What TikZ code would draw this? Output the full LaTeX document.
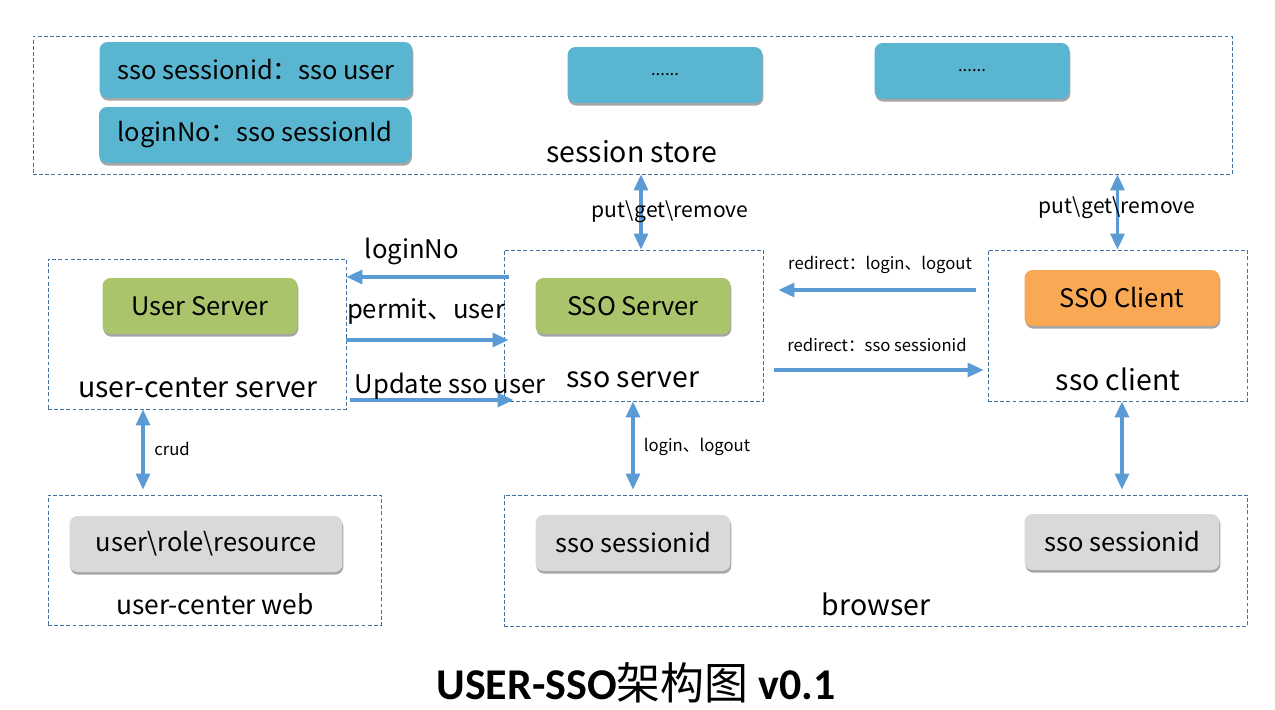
\documentclass[tikz,border=0pt]{standalone}
\usepackage{fontspec}
\setmainfont{Noto Sans CJK SC}
\newfontfamily\latinfont{Carlito}
\usetikzlibrary{arrows.meta,shadows,fit}

\definecolor{framecol}{RGB}{65,113,156}
\definecolor{arrowcol}{RGB}{91,155,213}
\definecolor{storecol}{RGB}{90,182,208}
\definecolor{servercol}{RGB}{169,196,106}
\definecolor{clientcol}{RGB}{249,168,84}
\definecolor{webcol}{RGB}{217,217,217}

\newcommand{\bigtext}{\fontsize{14.5}{17}\selectfont}
\newcommand{\labeltext}{\fontsize{16.2}{19}\selectfont}
\newcommand{\midtext}{\fontsize{14.6}{17}\selectfont}
\newcommand{\smalltext}{\fontsize{9.5}{12}\selectfont}

\tikzset{
  frame/.style={draw=framecol, line width=0.5pt, dash pattern=on 2.2pt off 1.3pt, inner sep=0pt},
  card/.style={rounded corners=0.16cm, minimum width=3.9cm, minimum height=1.12cm,
    inner sep=0pt, font=\bigtext,
    drop shadow={shadow xshift=0.5pt, shadow yshift=-1.5pt, opacity=0.35, fill=black}},
  boxlabel/.style={font=\labeltext, inner sep=1pt},
  flow/.style={draw=arrowcol, line width=1.8pt, -{Triangle[length=0.32cm, width=0.28cm]}},
  duplex/.style={flow, {Triangle[length=0.32cm, width=0.28cm]}-{Triangle[length=0.32cm, width=0.28cm]}},
}

\begin{document}
\begin{tikzpicture}[x=0.02cm, y=-0.02cm]
  \useasboundingbox (0,0) rectangle (1275,710);

  % containers
  \node[frame, fit={(33,36) (1232,174)}] (store) {};
  \node[frame, fit={(48,259) (346,409)}] (ucs) {};
  \node[frame, fit={(504,250) (763,401)}] (srv) {};
  \node[frame, fit={(988,250) (1247,401)}] (cli) {};
  \node[frame, fit={(48,495) (381,625)}] (web) {};
  \node[frame, fit={(504,495) (1247,626)}] (brw) {};

  % session store
  \node[card, fill=storecol, minimum width=6.26cm] (kv-1) at (256,70) {sso sessionid：sso user};
  \node[card, fill=storecol, minimum width=6.24cm] (kv-2) at (255,135) {loginNo：sso sessionId};
  \node[card, fill=storecol, font=\smalltext] (kv-3) at (665,75) {......};
  \node[card, fill=storecol, font=\smalltext] (kv-4) at (972,71) {......};
  \node[boxlabel] (store-lbl) at (632,152) {session store};

  % servers and client
  \node[card, fill=servercol] (usr) at (200,306) {User Server};
  \node[boxlabel] (ucs-lbl) at (198,388) {user-center server};
  \node[card, fill=servercol] (sso) at (633,306) {SSO Server};
  \node[boxlabel] (srv-lbl) at (633,380) {sso server};
  \node[card, fill=clientcol] (ssoc) at (1122,298) {SSO Client};
  \node[boxlabel] (cli-lbl) at (1118,379) {sso client};

  % web and browser
  \node[card, fill=webcol, minimum width=5.46cm] (res) at (206,544) {user\textbackslash role\textbackslash resource};
  \node[boxlabel, font=\fontsize{15}{18}\selectfont] (web-lbl) at (215,604) {user-center web};
  \node[card, fill=webcol] (sid-1) at (633,543) {sso sessionid};
  \node[card, fill=webcol] (sid-2) at (1122,542) {sso sessionid};
  \node[boxlabel] (brw-lbl) at (876,604) {browser};

  % rows and columns of the connectors
  \coordinate (row-1) at (0,277);
  \coordinate (row-2) at (0,340);
  \coordinate (row-3) at (0,400);
  \coordinate (row-4) at (0,290);
  \coordinate (row-5) at (0,370);
  \coordinate (col-1) at (641,0);
  \coordinate (col-2) at (143,0);

  \draw[duplex] (store.south -| col-1) -- (srv.north -| col-1);
  \draw[duplex] (store.south -| cli.north) -- (cli.north);
  \draw[duplex] (ucs.south -| col-2) -- ([yshift=0.1cm]web.north -| col-2);
  \draw[duplex] (srv.south -| sso) -- ([yshift=0.1cm]brw.north -| sso);
  \draw[duplex] (cli.south -| ssoc) -- ([yshift=0.1cm]brw.north -| ssoc);

  \draw[flow] ([xshift=0.1cm]srv.west |- row-1) -- (ucs.east |- row-1);
  \draw[flow] (ucs.east |- row-2) -- ([xshift=0.1cm]srv.west |- row-2);
  \draw[flow] ([xshift=0.08cm]ucs.east |- row-3) -- ([xshift=0.2cm]srv.west |- row-3);
  \draw[flow, shorten <=0.24cm, shorten >=0.3cm] (cli.west |- row-4) -- (srv.east |- row-4);
  \draw[flow, shorten <=0.22cm, shorten >=0.08cm] (srv.east |- row-5) -- (cli.west |- row-5);

  % connector labels
  \node[font=\midtext] (l-login) at (412,251) {loginNo};
  \node[font=\midtext] (l-permit) at (426,311) {permit、user};
  \node[font=\midtext] (l-update) at (450,386) {Update sso user};
  \node[font=\fontsize{12}{14}\selectfont] (l-put-1) at (670,212) {put\textbackslash get\textbackslash remove};
  \node[font=\fontsize{12}{14}\selectfont] (l-put-2) at (1117,208) {put\textbackslash get\textbackslash remove};
  \node[font=\smalltext] (l-redir-1) at (880,265) {redirect：login、logout};
  \node[font=\smalltext] (l-redir-2) at (877,345) {redirect：sso sessionid};
  \node[font=\smalltext] (l-crud) at (172,449) {crud};
  \node[font=\smalltext] (l-log) at (697,447) {login、logout};

  % title
  \node[font=\fontsize{25}{30}\selectfont] (title) at (636,683)
    {{\latinfont\bfseries USER-SSO}架构图{\latinfont\bfseries\ v0.1}};
\end{tikzpicture}
\end{document}
